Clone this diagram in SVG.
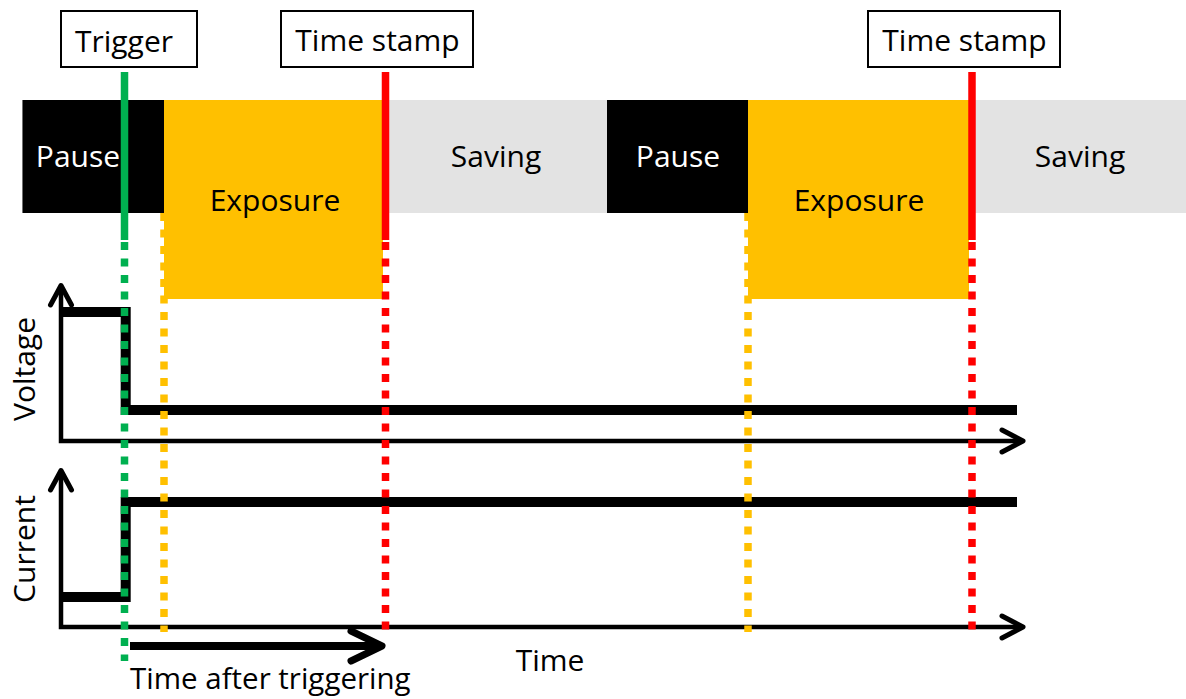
<svg xmlns="http://www.w3.org/2000/svg" width="1186" height="699" viewBox="0 0 1186 699">
<style>
text{font-family:"Open Sans","Liberation Sans",sans-serif;font-size:30px;fill:#000}
.w{fill:#fff}
.lbl{fill:#fff;stroke:#000;stroke-width:2}
.ax{fill:none;stroke:#000;stroke-width:4.5}
.hd{fill:none;stroke:#000;stroke-width:5;stroke-linecap:round;stroke-linejoin:round}
.sig{fill:none;stroke:#000;stroke-width:10;stroke-linejoin:miter}
.dot{fill:none;stroke-width:7.5;stroke-dasharray:8 8.5}
.sol{fill:none;stroke-width:7.5}
</style>
<rect width="1186" height="699" fill="#fff"/>
<g id="band">
<rect x="22" y="100" width="1164" height="113" fill="#e3e3e3"/>
</g>
<g id="pause1"><rect x="22.5" y="100" width="141.5" height="113" fill="#000"/><text class="w" x="78" y="167" text-anchor="middle">Pause</text></g>
<g id="exposure1"><rect x="164" y="100" width="219" height="199" fill="#ffc000"/><text x="275" y="211" text-anchor="middle">Exposure</text></g>
<g id="saving1"><text x="496" y="167" text-anchor="middle">Saving</text></g>
<g id="pause2"><rect x="607" y="100" width="141" height="113" fill="#000"/><text class="w" x="678" y="167" text-anchor="middle">Pause</text></g>
<g id="exposure2"><rect x="748" y="100" width="221" height="199" fill="#ffc000"/><text x="859" y="211" text-anchor="middle">Exposure</text></g>
<g id="saving2"><text x="1080" y="167" text-anchor="middle">Saving</text></g>
<g id="trigger-label"><rect class="lbl" x="61" y="11" width="136" height="56"/><text x="124" y="52" text-anchor="middle">Trigger</text></g>
<g id="timestamp1-label"><rect class="lbl" x="281" y="11" width="192" height="56"/><text x="377.5" y="51" text-anchor="middle">Time stamp</text></g>
<g id="timestamp2-label"><rect class="lbl" x="868" y="11" width="192" height="56"/><text x="964.5" y="51" text-anchor="middle">Time stamp</text></g>
<g id="voltage-plot">
<path class="sig" d="M61,312 H125.7 V410 H1017"/>
<path class="ax" d="M61,286 V441 H1022"/>
<path class="hd" d="M50.5,305 L61,285.5 L71.5,305"/>
<path class="hd" d="M1002,430 L1023,441 L1002,452"/>
<text transform="translate(35,369) rotate(-90)" text-anchor="middle">Voltage</text>
</g>
<g id="current-plot">
<path class="sig" d="M61,597 H125.7 V502 H1017"/>
<path class="ax" d="M61,471 V627 H1022"/>
<path class="hd" d="M50.5,490 L61,470.5 L71.5,490"/>
<path class="hd" d="M1002,616 L1023,627 L1002,638"/>
<text transform="translate(35,549) rotate(-90)" text-anchor="middle">Current</text>
</g>
<g id="connectors">
<line class="sol" x1="124.5" y1="72" x2="124.5" y2="240" stroke="#00b050"/>
<line class="dot" x1="124.5" y1="242" x2="124.5" y2="661" stroke="#00b050"/>
<line class="dot" x1="164" y1="213" x2="164" y2="632" stroke="#ffc000"/>
<line class="dot" x1="748" y1="213" x2="748" y2="632" stroke="#ffc000"/>
<line class="sol" x1="385.5" y1="72" x2="385.5" y2="240" stroke="#ff0000"/>
<line class="dot" x1="385.5" y1="242" x2="385.5" y2="632" stroke="#ff0000"/>
<line class="sol" x1="972" y1="72" x2="972" y2="240" stroke="#ff0000"/>
<line class="dot" x1="972" y1="242" x2="972" y2="632" stroke="#ff0000"/>
</g>
<g id="time-after-triggering">
<line x1="130" y1="646" x2="378" y2="646" stroke="#000" stroke-width="8"/>
<path class="hd" d="M351,631 L382,646 L351,661" style="stroke-width:7"/>
<text x="130" y="689" style="font-size:29.5px">Time after triggering</text>
</g>
<g id="time-label"><text x="550" y="671" text-anchor="middle">Time</text></g>
</svg>
